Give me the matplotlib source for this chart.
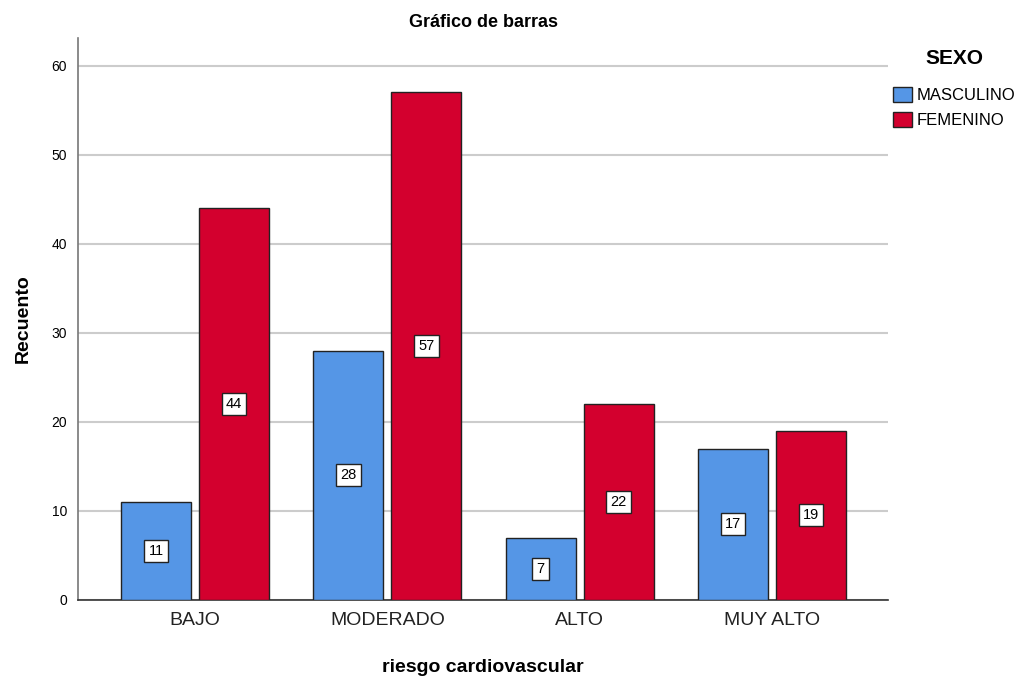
import matplotlib.pyplot as plt
import numpy as np

plt.rcParams['font.family'] = ['Liberation Sans', 'DejaVu Sans']

categorias = ['BAJO', 'MODERADO', 'ALTO', 'MUY ALTO']
masculino = [11, 28, 7, 17]
femenino = [44, 57, 22, 19]
azul = '#5596E6'
rojo = '#D3002E'

fig = plt.figure(figsize=(10.24, 6.81), dpi=100)
ax = fig.add_axes([0.0762, 0.119, 0.7910, 0.825])

x = np.arange(len(categorias))
ancho = 0.365
desp = 0.203
b1 = ax.bar(x - desp, masculino, ancho, color=azul, edgecolor='#222222', linewidth=1, label='MASCULINO', zorder=3)
b2 = ax.bar(x + desp, femenino, ancho, color=rojo, edgecolor='#222222', linewidth=1, label='FEMENINO', zorder=3)

# etiquetas de valor centradas en cada barra
for barras in (b1, b2):
    for b in barras:
        h = b.get_height()
        ax.text(b.get_x() + b.get_width() / 2, h / 2, f'{int(h)}', ha='center', va='center',
                fontsize=10.5, zorder=4,
                bbox=dict(boxstyle='square,pad=0.28', facecolor='white', edgecolor='#222222', linewidth=1))

ax.set_xlim(-0.609, 3.604)
ax.set_ylim(0, 63.1)
ax.set_yticks(range(0, 61, 10))
ax.set_xticks(x)
ax.set_xticklabels(categorias, fontsize=14, color='#222222')
ax.tick_params(axis='y', labelsize=10, length=0, pad=8)
ax.tick_params(axis='x', length=0, pad=9)
ax.yaxis.grid(True, color='#cccccc', linewidth=1.5, zorder=0)

for s in ['top', 'right']:
    ax.spines[s].set_visible(False)
ax.spines['left'].set_color('#777777')
ax.spines['bottom'].set_color('#333333')
ax.spines['left'].set_linewidth(1.2)
ax.spines['bottom'].set_linewidth(1.2)

ax.set_title('Gráfico de barras', fontsize=13, fontweight='bold', pad=8)
ax.set_xlabel('riesgo cardiovascular', fontsize=14, fontweight='bold', labelpad=21)
ax.set_ylabel('Recuento', fontsize=14, fontweight='bold', labelpad=14)

leg = ax.legend(title='SEXO', loc='upper left', bbox_to_anchor=(1.0, 0.99), frameon=False,
                fontsize=12, title_fontproperties={'weight': 'bold', 'size': 15},
                handlelength=1.15, handleheight=1.0, handletextpad=0.25, labelspacing=0.5,
                borderaxespad=0.0, borderpad=0.3)
leg._legend_box.sep = 14

fig.savefig('out.png', dpi=100)
